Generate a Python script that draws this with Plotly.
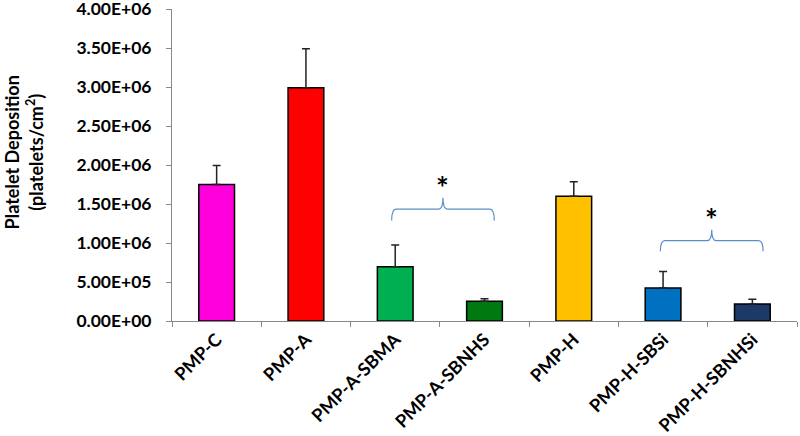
import plotly.graph_objects as go

categories = ["PMP-C", "PMP-A", "PMP-A-SBMA", "PMP-A-SBNHS", "PMP-H", "PMP-H-SBSi", "PMP-H-SBNHSi"]
values = [1.75e6, 2.99e6, 0.695e6, 0.252e6, 1.60e6, 0.423e6, 0.218e6]
errors = [0.245e6, 0.50e6, 0.28e6, 0.034e6, 0.185e6, 0.213e6, 0.060e6]
bar_colors = ["#FF00DD", "#FF0000", "#00B050", "#007A10", "#FFC000", "#0070C0", "#1B3A66"]
tick_vals = [0, 5e5, 1e6, 1.5e6, 2e6, 2.5e6, 3e6, 3.5e6, 4e6]
tick_text = ["0.00E+00", "5.00E+05", "1.00E+06", "1.50E+06", "2.00E+06",
             "2.50E+06", "3.00E+06", "3.50E+06", "4.00E+06"]
y_title = "<b>Platelet Deposition<br>(platelets/cm<sup>2</sup>)</b>"

FONT = "Lato"

fig = go.Figure()
fig.add_trace(go.Bar(
    x=categories, y=values,
    marker=dict(color=bar_colors, line=dict(color="#000000", width=1.5)),
    error_y=dict(type="data", array=errors, arrayminus=[0] * len(errors),
                 symmetric=False, color="#222222", thickness=1.5, width=4),
    width=0.4,
))

def brace(x0, x1, y_end, y_mid, y_peak, d=0.05):
    xm = (x0 + x1) / 2
    return (f"M {x0},{y_end} Q {x0},{y_mid} {x0 + d},{y_mid} "
            f"L {xm - d},{y_mid} Q {xm},{y_mid} {xm},{y_peak} "
            f"Q {xm},{y_mid} {xm + d},{y_mid} "
            f"L {x1 - d},{y_mid} Q {x1},{y_mid} {x1},{y_end}")

braces = [
    (1.96, 3.11, 1.29e6, 1.435e6, 1.58e6),
    (4.97, 6.12, 0.895e6, 1.03e6, 1.17e6),
]
for b in braces:
    fig.add_shape(type="path", path=brace(*b), xref="x", yref="y",
                  line=dict(color="#5B8DC9", width=1.2))
    fig.add_annotation(x=(b[0] + b[1]) / 2, y=b[4] + 0.14e6, text="<b>*</b>",
                       showarrow=False, font=dict(size=30, color="#000000", family=FONT),
                       xref="x", yref="y", yanchor="middle")

# y-axis title as rotated annotation
fig.add_annotation(x=-0.237, y=0.54, xref="paper", yref="paper", text=y_title,
                   textangle=-90, showarrow=False, xanchor="center", yanchor="middle",
                   font=dict(size=18, family=FONT, color="#000000"))

fig.update_layout(
    width=800, height=436,
    margin=dict(l=172, r=3, t=9, b=115, autoexpand=False),
    plot_bgcolor="white", paper_bgcolor="white",
    showlegend=False,
    font=dict(family=FONT, color="#000000"),
)
fig.update_xaxes(
    type="category", tickangle=-45, tickson="boundaries",
    ticks="outside", ticklen=5, tickcolor="#888888",
    showline=True, linecolor="#888888", linewidth=1,
    tickfont=dict(size=18, family=FONT, weight="bold"),
    range=[-0.5, 6.5], showgrid=False, automargin=False,
    ticklabeloverflow="allow",
)
fig.update_yaxes(
    range=[0, 4e6], tickvals=tick_vals, ticktext=tick_text,
    ticks="outside", ticklen=5, tickcolor="#888888",
    showline=True, linecolor="#888888", linewidth=1,
    tickfont=dict(size=17.5, family=FONT, weight="bold"),
    showgrid=False, zeroline=False, automargin=False,
    ticklabeloverflow="allow", ticklabelstandoff=11,
)

fig.write_html("out.html", config={"displayModeBar": False},
               post_script="document.body.style.margin='0';document.body.style.overflow='hidden';")
